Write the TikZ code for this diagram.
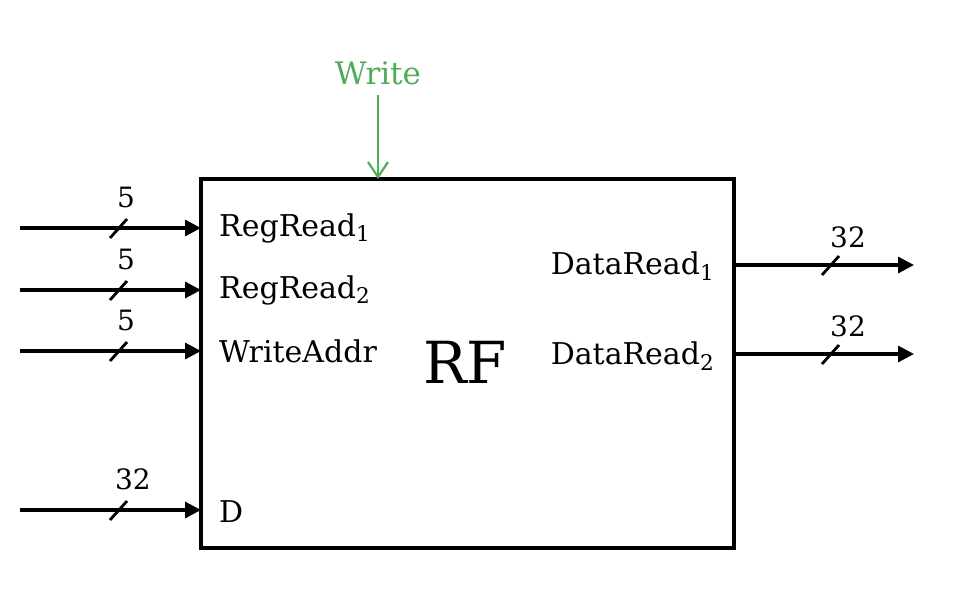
\documentclass[tikz,border=0pt]{standalone}
\usepackage{fontspec}
\setmainfont{DejaVu Serif}
\usetikzlibrary{arrows.meta}
\definecolor{wgreen}{RGB}{80,172,90}
\newcommand\lsub[1]{\raisebox{-0.35ex}{\scalebox{0.72}{#1}}}
\tikzset{
  lbl/.style={font=\fontsize{30}{34}\selectfont, inner sep=0pt},
  num/.style={font=\fontsize{28}{30}\selectfont, inner sep=0pt},
  bus/.style={line width=3.2pt, -{Triangle[length=16pt,width=16pt]}},
  slash/.style={line width=2.8pt},
  blk/.style={draw, line width=3.6pt, minimum width=533pt, minimum height=369pt, inner sep=0pt}
}
\begin{document}
\begin{tikzpicture}[x=1pt,y=-1pt]
\useasboundingbox (0,0) rectangle (956,602);
\node[blk] (rf) at (467.5,363.5) {};
\node[font=\fontsize{58}{62}\selectfont, inner sep=0pt] (rft) at (465,362) {RF};
% inputs
\foreach \n/\y/\w/\wx in {a/228/5/126, b/290/5/126, c/351/5/126, d/510/32/133}{
  \coordinate (s\n) at (20,\y);
  \coordinate (e\n) at (201,\y);
  \draw[bus] (s\n) -- (e\n);
  \draw[slash] (110,\y+10) -- (127,\y-9);
  \node[num] (w\n) at (\wx,\y-31) {\w};
}
\node[lbl, anchor=west] (l1) at (219,228) {RegRead\lsub{1}};
\node[lbl, anchor=west] (l2) at (219,290) {RegRead\lsub{2}};
\node[lbl, anchor=west] (l3) at (219,351) {WriteAddr};
\node[lbl, anchor=west] (l4) at (219,512) {D};
% outputs
\foreach \n/\y in {f/265, g/354}{
  \coordinate (s\n) at (734,\y);
  \coordinate (e\n) at (914,\y);
  \draw[bus] (s\n) -- (e\n);
  \draw[slash] (822,\y+10) -- (839,\y-9);
  \node[num] (w\n) at (848,\y-28) {32};
}
\node[lbl, anchor=east] (o1) at (714,266) {DataRead\lsub{1}};
\node[lbl, anchor=east] (o2) at (714,356) {DataRead\lsub{2}};
% write
\node[lbl, text=wgreen, font=\fontsize{31}{34}\selectfont] (wr) at (378,73) {Write};
\coordinate (wt) at (378,179);
\draw[wgreen, line width=2.2pt, -{Straight Barb[length=15pt,width=20pt,line width=2.2pt]}] (378,95) -- (wt);
\end{tikzpicture}
\end{document}
